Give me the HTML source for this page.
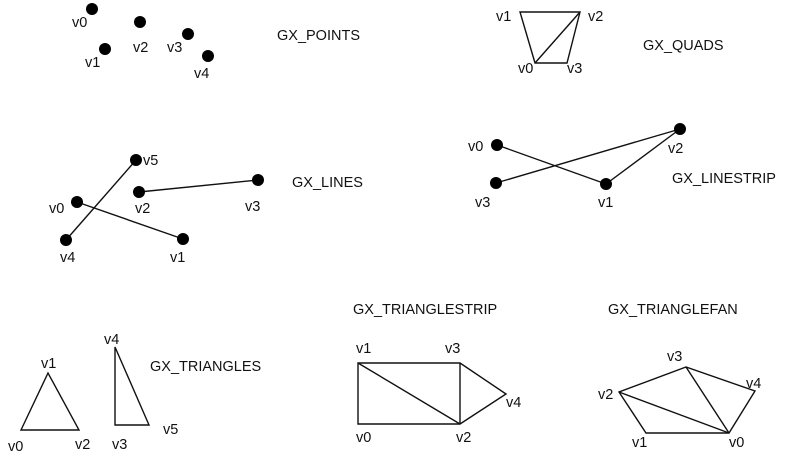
<!DOCTYPE html>
<html><head><meta charset="utf-8"><style>
html,body{margin:0;padding:0;background:#fff;}
svg{display:block;}
text{font-family:"Liberation Sans",sans-serif;font-size:14.5px;fill:#111;}
</style></head><body>
<svg id="diagram" width="809" height="454" viewBox="0 0 809 454" xmlns="http://www.w3.org/2000/svg">
<g stroke="#111" stroke-width="1.4" fill="none">
<polygon points="520,12 580,12 567,63 535,63"/>
<line x1="535" y1="63" x2="580" y2="12"/>
<line x1="77" y1="202" x2="183" y2="239"/>
<line x1="139" y1="192" x2="258" y2="180"/>
<line x1="66" y1="240" x2="136" y2="160"/>
<polyline points="497,145 606,184 680,129 496,183"/>
<polygon points="21,430 48,373 79,430"/>
<polygon points="115,347 115,425 149,425"/>
<polygon points="358,363 460,363 506,394 460,424 358,424"/>
<line x1="358" y1="363" x2="460" y2="424"/>
<line x1="460" y1="363" x2="460" y2="424"/>
<polygon points="729,433 646,433 619,392 686,367 755,391"/>
<line x1="729" y1="433" x2="619" y2="392"/>
<line x1="729" y1="433" x2="686" y2="367"/>
</g>
<g fill="#000">
<circle cx="92" cy="9" r="6"/>
<circle cx="105" cy="49" r="6"/>
<circle cx="140" cy="22" r="6"/>
<circle cx="188" cy="34" r="6"/>
<circle cx="208" cy="56" r="6"/>
<circle cx="77" cy="202" r="6"/>
<circle cx="183" cy="239" r="6"/>
<circle cx="139" cy="192" r="6"/>
<circle cx="258" cy="180" r="6"/>
<circle cx="66" cy="240" r="6"/>
<circle cx="136" cy="160" r="6"/>
<circle cx="497" cy="145" r="6"/>
<circle cx="606" cy="184" r="6"/>
<circle cx="680" cy="129" r="6"/>
<circle cx="496" cy="183" r="6"/>
</g>
<g>
<text x="72" y="27">v0</text>
<text x="85" y="67">v1</text>
<text x="133" y="52">v2</text>
<text x="167" y="52">v3</text>
<text x="194" y="78">v4</text>
<text x="277" y="40">GX_POINTS</text>

<text x="143" y="165">v5</text>
<text x="135" y="213">v2</text>
<text x="245" y="211">v3</text>
<text x="49" y="213">v0</text>
<text x="60" y="262">v4</text>
<text x="170" y="262">v1</text>
<text x="292" y="187">GX_LINES</text>

<text x="496" y="21">v1</text>
<text x="588" y="21">v2</text>
<text x="518" y="73">v0</text>
<text x="567" y="73">v3</text>
<text x="643" y="50">GX_QUADS</text>

<text x="468" y="151">v0</text>
<text x="668" y="153">v2</text>
<text x="475" y="207">v3</text>
<text x="598" y="207">v1</text>
<text x="672" y="183">GX_LINESTRIP</text>

<text x="41" y="368">v1</text>
<text x="104" y="344">v4</text>
<text x="8" y="451">v0</text>
<text x="75" y="449">v2</text>
<text x="112" y="449">v3</text>
<text x="163" y="434">v5</text>
<text x="150" y="371">GX_TRIANGLES</text>

<text x="356" y="353">v1</text>
<text x="445" y="353">v3</text>
<text x="506" y="407">v4</text>
<text x="356" y="442">v0</text>
<text x="456" y="442">v2</text>
<text x="353" y="314">GX_TRIANGLESTRIP</text>

<text x="667" y="361">v3</text>
<text x="746" y="388">v4</text>
<text x="598" y="399">v2</text>
<text x="632" y="447">v1</text>
<text x="729" y="447">v0</text>
<text x="608" y="314">GX_TRIANGLEFAN</text>
</g>
</svg>
</body></html>
